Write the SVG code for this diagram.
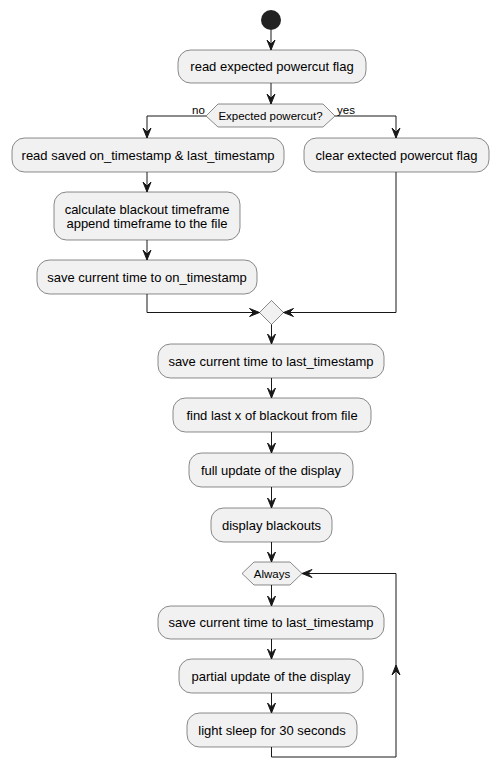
<svg xmlns="http://www.w3.org/2000/svg" width="498" height="780" viewBox="0 0 498 780">
<defs>
<style>
.n{fill:#F1F1F1;stroke:#181818;stroke-width:0.5}
.t{font-family:"Liberation Sans",Arial,sans-serif;font-size:13px;fill:#000;text-anchor:middle}
.s{font-family:"Liberation Sans",Arial,sans-serif;font-size:11.5px;fill:#000}
.e{fill:none;stroke:#181818;stroke-width:1}
.a{fill:#181818;stroke:#181818;stroke-width:1}
</style>
</defs>
<rect width="498" height="780" fill="#FFFFFF"/>
<g id="start"><circle cx="271" cy="20" r="10" fill="#222222"/></g>
<g id="n1"><rect class="n" x="178" y="50" width="188" height="33" rx="12.5"/><text class="t" x="272" y="71">read expected powercut flag</text></g>
<g id="d1"><polygon class="n" points="206,116 218,104 323,104 335,116 323,127 218,127"/><text class="s" x="270.5" y="120" text-anchor="middle">Expected powercut?</text></g>
<g id="n2"><rect class="n" x="12" y="138" width="272" height="34" rx="12.5"/><text class="t" x="148" y="160">read saved on_timestamp &amp; last_timestamp</text></g>
<g id="n3"><rect class="n" x="304" y="138" width="185" height="34" rx="12.5"/><text class="t" x="396.5" y="160">clear extected powercut flag</text></g>
<g id="n4"><rect class="n" x="54" y="192" width="186" height="48" rx="12.5"/><text class="t" x="147" y="214">calculate blackout timeframe</text><text class="t" x="147" y="228">append timeframe to the file</text></g>
<g id="n5"><rect class="n" x="37" y="260" width="220" height="34" rx="12.5"/><text class="t" x="147" y="282">save current time to on_timestamp</text></g>
<g id="m1"><polygon class="n" points="271.5,300.5 283.5,312.5 271.5,324.5 259.5,312.5"/></g>
<g id="n6"><rect class="n" x="158" y="344" width="226" height="34" rx="12.5"/><text class="t" x="271" y="366">save current time to last_timestamp</text></g>
<g id="n7"><rect class="n" x="173" y="398" width="198" height="34" rx="12.5"/><text class="t" x="272" y="420">find last x of blackout from file</text></g>
<g id="n8"><rect class="n" x="189" y="453" width="164" height="34" rx="12.5"/><text class="t" x="271" y="475">full update of the display</text></g>
<g id="n9"><rect class="n" x="211" y="508" width="121" height="34" rx="12.5"/><text class="t" x="271.5" y="530">display blackouts</text></g>
<g id="d2"><polygon class="n" points="242,573.5 254,562 290,562 302,573.5 290,585 254,585"/><text class="s" x="272" y="577.5" text-anchor="middle">Always</text></g>
<g id="n10"><rect class="n" x="158" y="606" width="226" height="33" rx="12.5"/><text class="t" x="271" y="627">save current time to last_timestamp</text></g>
<g id="n11"><rect class="n" x="179" y="659" width="184" height="34" rx="12.5"/><text class="t" x="271" y="681">partial update of the display</text></g>
<g id="n12"><rect class="n" x="187" y="713" width="170" height="34" rx="12.5"/><text class="t" x="272" y="735">light sleep for 30 seconds</text></g>
<g id="connectors">
<path class="e" d="M271,30 V50"/><polygon class="a" points="267,40 271,50 275,40 271,44"/>
<path class="e" d="M271,83 V104"/><polygon class="a" points="267,94 271,104 275,94 271,98"/>
<path class="e" d="M206,116 H147 V138"/><polygon class="a" points="143,128 147,138 151,128 147,132"/>
<text class="s" x="192" y="114">no</text>
<path class="e" d="M335,116 H396 V138"/><polygon class="a" points="392,128 396,138 400,128 396,132"/>
<text class="s" x="337" y="114">yes</text>
<path class="e" d="M147,172 V192"/><polygon class="a" points="143,182 147,192 151,182 147,186"/>
<path class="e" d="M147,240 V260"/><polygon class="a" points="143,250 147,260 151,250 147,254"/>
<path class="e" d="M147,294 V312.5 H259.5"/><polygon class="a" points="249.5,308.5 259.5,312.5 249.5,316.5 253.5,312.5"/>
<path class="e" d="M396,172 V312.5 H283.5"/><polygon class="a" points="293.5,308.5 283.5,312.5 293.5,316.5 289.5,312.5"/>
<path class="e" d="M271.5,324.5 V344"/><polygon class="a" points="267.5,334 271.5,344 275.5,334 271.5,338"/>
<path class="e" d="M271.5,378 V398"/><polygon class="a" points="267.5,388 271.5,398 275.5,388 271.5,392"/>
<path class="e" d="M271.5,432 V453"/><polygon class="a" points="267.5,443 271.5,453 275.5,443 271.5,447"/>
<path class="e" d="M271.5,487 V508"/><polygon class="a" points="267.5,498 271.5,508 275.5,498 271.5,502"/>
<path class="e" d="M271.5,542 V562"/><polygon class="a" points="267.5,552 271.5,562 275.5,552 271.5,556"/>
<path class="e" d="M271.5,585 V606"/><polygon class="a" points="267.5,596 271.5,606 275.5,596 271.5,600"/>
<path class="e" d="M271.5,639 V659"/><polygon class="a" points="267.5,649 271.5,659 275.5,649 271.5,653"/>
<path class="e" d="M271.5,693 V713"/><polygon class="a" points="267.5,703 271.5,713 275.5,703 271.5,707"/>
<path class="e" d="M271.5,747 V757 H396 V573.5 H302"/>
<polygon class="a" points="392,675 396,665 400,675 396,671"/>
<polygon class="a" points="312,569.5 302,573.5 312,577.5 308,573.5"/>
</g>
</svg>
